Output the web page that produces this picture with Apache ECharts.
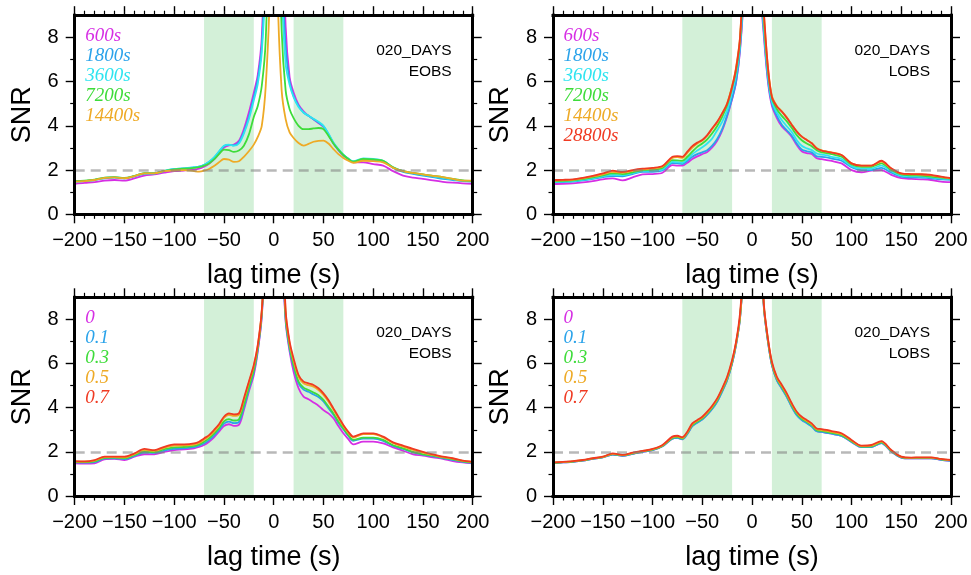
<!DOCTYPE html>
<html><head><meta charset="utf-8">
<script src="https://cdn.jsdelivr.net/npm/echarts@6/dist/echarts.min.js"></script>
<style>html,body{margin:0;padding:0;background:#fff}#c{width:971px;height:575px}</style>
</head><body><div id="c"></div>
<script>
// ---------- data ----------
const LAG = [-200,-190,-180,-170,-160,-150,-140,-130,-120,-110,-100,-90,-80,-75,-70,-65,-60,-55,-50,-45,-40,-35,-30,-25,-20,-16,-12,-8,-4,0,4,8,12,16,20,25,30,35,40,45,50,55,60,65,70,75,80,90,100,110,120,130,140,150,160,170,180,190,200];
const X_TICKS = [-200,-150,-100,-50,0,50,100,150,200];
const Y_TICKS = [0,2,4,6,8];
const BAND_NEG = [-70,-20];
const BAND_POS = [20,70];
const SNR_THRESHOLD = 2;
const WINDOW_LABELS = ['600s','1800s','3600s','7200s','14400s','28800s'];
const WEIGHT_LABELS = ['0','0.1','0.3','0.5','0.7'];
const DATASET_TAG = '020_DAYS';

// top-left: EOBS, windows
const tl600 = [1.38,1.42,1.45,1.52,1.55,1.52,1.62,1.75,1.8,1.88,1.95,1.98,2.02,2.06,2.15,2.28,2.48,2.75,3.02,3.12,3.15,3.32,3.85,4.6,5.5,6.3,8.0,14,25,
  40, 30,15,8.5,6.2,5.5,4.95,4.65,4.45,4.3,4.12,3.95,3.6,3.2,2.9,2.65,2.5,2.35,2.35,2.27,2.2,1.95,1.75,1.66,1.6,1.53,1.47,1.43,1.4,1.38];
const tl1800 = [1.48,1.5,1.55,1.63,1.66,1.62,1.72,1.83,1.84,1.95,2.04,2.07,2.12,2.15,2.22,2.36,2.55,2.82,3.08,3.14,3.12,3.25,3.72,4.4,5.3,6.1,7.6,12,22,
  38, 26,12,7.6,6.0,5.35,4.9,4.6,4.45,4.3,4.15,3.98,3.62,3.22,2.92,2.68,2.5,2.38,2.48,2.45,2.4,2.1,1.92,1.83,1.75,1.68,1.6,1.55,1.5,1.48];
const tl3600 = [1.48,1.5,1.55,1.65,1.68,1.63,1.73,1.85,1.85,1.96,2.05,2.08,2.13,2.16,2.24,2.38,2.57,2.84,3.1,3.15,3.1,3.2,3.65,4.3,5.15,5.9,7.3,11,20,
  36, 24,10.5,6.8,5.85,5.3,4.85,4.6,4.45,4.32,4.18,4.0,3.65,3.25,2.95,2.7,2.52,2.4,2.53,2.5,2.42,2.12,1.95,1.86,1.78,1.72,1.65,1.58,1.52,1.5];
const tl7200 = [1.5,1.52,1.57,1.66,1.68,1.64,1.74,1.86,1.86,1.96,2.03,2.06,2.1,2.13,2.2,2.3,2.48,2.72,2.92,2.9,2.82,2.88,3.1,3.6,4.4,4.9,5.8,7.9,15,
  30, 16,8.3,5.6,4.75,4.35,4.0,3.85,3.85,3.88,3.9,3.85,3.55,3.2,2.92,2.68,2.5,2.38,2.5,2.48,2.42,2.12,1.95,1.87,1.8,1.74,1.68,1.6,1.53,1.5];
const tl14400 = [1.48,1.5,1.55,1.65,1.67,1.63,1.73,1.85,1.85,1.95,1.98,2.0,1.95,1.93,1.97,2.05,2.18,2.35,2.5,2.47,2.37,2.4,2.6,2.85,3.15,3.5,4.0,5.8,10,
  22, 10,5.6,4.3,3.7,3.45,3.22,3.1,3.18,3.28,3.32,3.33,3.2,2.95,2.72,2.55,2.42,2.33,2.42,2.4,2.35,2.1,1.95,1.87,1.8,1.74,1.68,1.6,1.52,1.52];

// top-right: LOBS, windows
const tr600 = [1.37,1.38,1.4,1.44,1.5,1.58,1.62,1.53,1.67,1.8,1.82,1.88,2.22,2.2,2.2,2.33,2.5,2.62,2.72,2.82,3.02,3.32,3.78,4.42,5.2,5.95,7.4,10.3,18,
  40, 18,10.5,8.0,6.0,4.9,4.35,3.97,3.75,3.5,3.13,2.85,2.77,2.73,2.53,2.49,2.45,2.41,2.3,2.0,1.9,1.97,2.0,1.78,1.63,1.6,1.58,1.55,1.48,1.45];
const tr1800 = [1.44,1.46,1.48,1.53,1.6,1.68,1.73,1.72,1.82,1.92,1.92,1.98,2.32,2.3,2.27,2.42,2.6,2.72,2.8,2.9,3.1,3.4,3.85,4.48,5.24,6.0,7.5,10.5,19,
  40, 19,10.8,8.2,6.1,5.0,4.45,4.05,3.8,3.55,3.2,2.93,2.85,2.8,2.62,2.6,2.57,2.52,2.42,2.13,2.0,2.0,2.1,1.88,1.7,1.67,1.66,1.63,1.58,1.56];
const tr3600 = [1.46,1.48,1.5,1.56,1.63,1.72,1.78,1.77,1.86,1.96,1.97,2.03,2.37,2.36,2.33,2.5,2.72,2.88,3.03,3.2,3.43,3.8,4.18,4.7,5.54,6.3,7.7,11,20,
  40, 20,11.2,8.4,6.3,5.1,4.6,4.25,3.98,3.72,3.35,3.1,2.98,2.9,2.75,2.7,2.67,2.6,2.5,2.18,2.07,2.07,2.2,1.95,1.75,1.72,1.7,1.67,1.62,1.58];
const tr7200 = [1.49,1.51,1.53,1.59,1.67,1.76,1.85,1.82,1.9,2.0,2.02,2.1,2.45,2.44,2.42,2.6,2.83,3.05,3.2,3.39,3.66,3.99,4.41,4.93,5.74,6.5,7.9,11.5,21,
  40, 21,11.6,8.7,6.5,5.25,4.75,4.45,4.2,3.9,3.58,3.35,3.2,3.08,2.9,2.8,2.77,2.72,2.6,2.25,2.15,2.15,2.3,2.0,1.8,1.76,1.75,1.7,1.66,1.6];
const tr14400 = [1.52,1.54,1.56,1.62,1.71,1.81,1.92,1.88,1.96,2.03,2.07,2.15,2.55,2.58,2.55,2.78,3.02,3.2,3.33,3.55,3.86,4.15,4.55,5.02,5.8,6.65,8.05,12,22,
  40, 22,12,9.0,6.65,5.35,4.9,4.65,4.38,4.05,3.75,3.52,3.37,3.22,3.0,2.89,2.84,2.8,2.68,2.3,2.2,2.2,2.38,2.06,1.84,1.81,1.8,1.76,1.69,1.62];
const tr28800 = [1.55,1.56,1.58,1.65,1.74,1.85,1.97,1.92,2.0,2.06,2.1,2.18,2.6,2.63,2.6,2.83,3.08,3.24,3.36,3.58,3.89,4.18,4.56,5.0,5.77,6.6,8.0,12,22,
  40, 22,12.2,9.1,6.65,5.3,4.87,4.64,4.36,4.04,3.74,3.51,3.36,3.21,2.98,2.88,2.83,2.79,2.68,2.3,2.2,2.2,2.42,2.08,1.85,1.82,1.81,1.78,1.7,1.63];

// bottom-left: EOBS, weights
const bl0 = [1.48,1.47,1.48,1.66,1.68,1.63,1.78,1.89,1.89,2.0,2.08,2.11,2.16,2.22,2.31,2.46,2.66,2.91,3.17,3.25,3.18,3.22,3.89,4.72,5.48,6.54,8.1,12,22,
  40, 22,12,7.9,6.54,5.63,4.88,4.5,4.38,4.24,4.09,3.89,3.74,3.52,3.17,2.84,2.58,2.34,2.46,2.46,2.38,2.2,2.05,1.89,1.83,1.75,1.68,1.58,1.52,1.48];
const bl01 = [1.52,1.51,1.53,1.7,1.71,1.67,1.82,1.97,1.95,2.06,2.14,2.16,2.21,2.28,2.38,2.53,2.74,2.99,3.28,3.37,3.3,3.35,4.0,4.82,5.6,6.62,8.2,12,22,
  40, 22,12.5,8.0,6.65,5.85,5.1,4.82,4.72,4.6,4.48,4.28,3.98,3.68,3.32,3.02,2.72,2.5,2.6,2.6,2.5,2.27,2.13,1.97,1.87,1.8,1.72,1.63,1.55,1.5];
const bl03 = [1.54,1.54,1.57,1.73,1.74,1.71,1.86,2.02,1.99,2.12,2.2,2.22,2.27,2.34,2.46,2.61,2.82,3.07,3.38,3.48,3.42,3.47,4.12,4.92,5.7,6.7,8.3,12,22,
  40, 22,13,8.1,6.75,5.93,5.18,4.91,4.8,4.69,4.57,4.35,4.05,3.74,3.37,3.06,2.76,2.54,2.64,2.64,2.54,2.3,2.16,2.0,1.89,1.83,1.74,1.66,1.57,1.52];
const bl05 = [1.56,1.56,1.6,1.76,1.76,1.75,1.9,2.08,2.04,2.18,2.28,2.29,2.33,2.4,2.55,2.7,2.92,3.18,3.54,3.68,3.63,3.67,4.35,5.12,5.88,6.8,8.35,12,22,
  40, 22,13.5,8.3,6.9,6.12,5.4,5.1,5.02,4.95,4.8,4.58,4.28,3.92,3.53,3.17,2.86,2.65,2.8,2.8,2.65,2.39,2.24,2.09,1.96,1.86,1.76,1.69,1.59,1.54];
const bl07 = [1.58,1.57,1.63,1.78,1.78,1.78,1.93,2.13,2.08,2.23,2.34,2.34,2.38,2.46,2.61,2.76,2.99,3.25,3.59,3.74,3.7,3.74,4.42,5.18,5.93,6.84,8.4,12,22,
  40, 22,14,8.4,6.99,6.23,5.48,5.18,5.1,5.03,4.88,4.65,4.35,3.97,3.59,3.22,2.91,2.69,2.84,2.84,2.69,2.43,2.28,2.13,2.0,1.89,1.78,1.71,1.6,1.55];

// bottom-right: LOBS, weights
const br0 = [1.49,1.52,1.55,1.6,1.68,1.75,1.88,1.82,1.91,2.0,2.08,2.25,2.6,2.63,2.57,2.81,3.17,3.33,3.47,3.69,3.95,4.28,4.74,5.25,6.0,6.85,8.05,11,21,
  40, 21,12,8.5,7.0,5.93,5.25,4.87,4.49,4.04,3.67,3.45,3.31,3.16,2.94,2.9,2.86,2.82,2.72,2.45,2.21,2.22,2.4,2.02,1.74,1.7,1.71,1.71,1.64,1.59];
const br01 = [1.49,1.52,1.55,1.6,1.68,1.75,1.88,1.82,1.91,2.0,2.08,2.25,2.6,2.63,2.57,2.81,3.16,3.32,3.46,3.68,3.94,4.27,4.73,5.24,6.0,6.85,8.05,11,21,
  40, 21,12,8.5,7.0,5.92,5.24,4.86,4.48,4.03,3.66,3.44,3.3,3.15,2.93,2.9,2.86,2.82,2.72,2.45,2.21,2.22,2.4,2.02,1.74,1.7,1.71,1.71,1.64,1.59];
const br03 = [1.5,1.53,1.56,1.61,1.69,1.76,1.9,1.84,1.93,2.02,2.1,2.27,2.63,2.67,2.6,2.85,3.21,3.37,3.51,3.74,4.0,4.33,4.79,5.3,6.05,6.9,8.1,11,21,
  40, 21,12.2,8.55,7.05,5.98,5.3,4.93,4.55,4.1,3.73,3.5,3.36,3.21,2.98,2.95,2.91,2.86,2.76,2.48,2.24,2.25,2.43,2.04,1.76,1.72,1.73,1.73,1.66,1.61];
const br05 = [1.51,1.54,1.57,1.62,1.7,1.77,1.91,1.85,1.94,2.03,2.11,2.29,2.66,2.7,2.63,2.88,3.25,3.41,3.55,3.78,4.05,4.38,4.84,5.35,6.1,6.94,8.15,11,21,
  40, 21,12.3,8.6,7.1,6.03,5.35,4.98,4.6,4.15,3.78,3.55,3.4,3.25,3.02,2.99,2.95,2.9,2.8,2.51,2.26,2.28,2.46,2.06,1.77,1.73,1.74,1.74,1.67,1.62];
const br07 = [1.52,1.55,1.58,1.63,1.71,1.78,1.93,1.86,1.96,2.04,2.13,2.31,2.69,2.73,2.66,2.91,3.29,3.44,3.59,3.82,4.09,4.42,4.88,5.4,6.16,6.99,8.3,11,22,
  40, 22,12.5,8.65,7.14,6.08,5.4,5.03,4.65,4.2,3.82,3.59,3.44,3.29,3.06,3.03,2.99,2.94,2.84,2.54,2.28,2.31,2.49,2.08,1.78,1.74,1.75,1.75,1.68,1.63];

// ---------- styling / layout ----------
const COLORS = ['#d62ee4','#2aa3ea','#2ee4f0','#3edc3a','#eeaa26','#f03a22'];
const WEIGHT_COLORS = ['#d62ee4','#2aa3ea','#3edc3a','#eeaa26','#f03a22'];
const GRIDS = [
  {left: 74.7, top: 15.2, width: 398, height: 199.1},
  {left: 553, top: 15.2, width: 398, height: 199.1},
  {left: 74.7, top: 297.3, width: 398, height: 198.7},
  {left: 553, top: 297.3, width: 398, height: 198.7}
];
const PANELS = [
  {tag: 'EOBS', labels: WINDOW_LABELS.slice(0,5), colors: COLORS.slice(0,5), series: [tl600,tl1800,tl3600,tl7200,tl14400]},
  {tag: 'LOBS', labels: WINDOW_LABELS, colors: COLORS, series: [tr600,tr1800,tr3600,tr7200,tr14400,tr28800]},
  {tag: 'EOBS', labels: WEIGHT_LABELS, colors: WEIGHT_COLORS, series: [bl0,bl01,bl03,bl05,bl07]},
  {tag: 'LOBS', labels: WEIGHT_LABELS, colors: WEIGHT_COLORS, series: [br0,br01,br03,br05,br07]}
];

const FONT = '"Liberation Sans", Arial, Helvetica, sans-serif';
const minus = v => String(v).replace('-', '\u2212');
const axisLine = {show: true, onZero: false, lineStyle: {color: '#000', width: 3, cap: 'square'}};
const tick = {show: true, length: 9, lineStyle: {color: '#000', width: 1.4}};

const option = {
  animation: false,
  backgroundColor: '#fff',
  grid: GRIDS.map(g => Object.assign({show: false, containLabel: false}, g)),
  xAxis: [], yAxis: [], series: [], graphic: []
};

GRIDS.forEach((g, i) => {
  const xBase = {
    type: 'value', gridIndex: i, min: -200, max: 200, interval: 50, z: 10,
    axisLine: axisLine, axisTick: tick,
    minorTick: {show: true, splitNumber: 5, length: 4.5, lineStyle: {color: '#000', width: 1.2}},
    splitLine: {show: false}, minorSplitLine: {show: false}
  };
  option.xAxis.push(Object.assign({}, xBase, {
    position: 'bottom',
    axisLabel: {show: true, color: '#000', fontSize: 20, fontFamily: FONT, margin: 16, formatter: minus, customValues: X_TICKS},
    name: 'lag time (s)', nameLocation: 'middle', nameGap: 48,
    nameTextStyle: {color: '#000', fontSize: 27, fontFamily: FONT}
  }));
  option.xAxis.push(Object.assign({}, xBase, {position: 'top', axisLabel: {show: false}}));
  const yBase = {
    type: 'value', gridIndex: i, min: 0, max: 9, interval: 2, z: 10,
    axisLine: axisLine, axisTick: Object.assign({customValues: Y_TICKS}, tick),
    minorTick: {show: true, splitNumber: 2, length: 4.5, lineStyle: {color: '#000', width: 1.2}},
    splitLine: {show: false}, minorSplitLine: {show: false}
  };
  option.yAxis.push(Object.assign({}, yBase, {
    position: 'left',
    axisLabel: {show: true, color: '#000', fontSize: 20, fontFamily: FONT, margin: 16, customValues: Y_TICKS},
    name: 'SNR', nameLocation: 'middle', nameGap: 39, nameRotate: 90,
    nameTextStyle: {color: '#000', fontSize: 27, fontFamily: FONT}
  }));
  option.yAxis.push(Object.assign({}, yBase, {position: 'right', axisLabel: {show: false}}));

  const xi = 2 * i, yi = 2 * i;
  option.series.push({
    type: 'line', xAxisIndex: xi, yAxisIndex: yi, data: [], silent: true, z: 1,
    markArea: {silent: true, itemStyle: {color: '#d3f0d8'},
      data: [[{xAxis: BAND_NEG[0]}, {xAxis: BAND_NEG[1]}], [{xAxis: BAND_POS[0]}, {xAxis: BAND_POS[1]}]]}
  });
  const p = PANELS[i];
  p.series.forEach((arr, k) => {
    option.series.push({
      type: 'line', xAxisIndex: xi, yAxisIndex: yi, z: 3,
      data: LAG.map((x, j) => [x, arr[j]]),
      showSymbol: false, smooth: 0.3, clip: true, silent: true,
      lineStyle: {color: p.colors[k], width: 1.8}
    });
  });
  option.series.push({
    type: 'line', xAxisIndex: xi, yAxisIndex: yi, data: [], silent: true, z: 5,
    markLine: {silent: true, symbol: 'none', label: {show: false},
      lineStyle: {type: [10, 6], color: 'rgba(125,125,125,0.55)', width: 2.6},
      data: [{yAxis: SNR_THRESHOLD}]}
  });
  p.labels.forEach((t, k) => {
    option.graphic.push({type: 'text', x: g.left + 10.5, y: g.top + 20.5 + 20 * k, z: 100,
      style: {text: t, fill: p.colors[k], fontSize: 19, fontStyle: 'italic',
        fontFamily: '"Liberation Serif", "Times New Roman", serif', align: 'left', verticalAlign: 'middle'}});
  });
  [DATASET_TAG, p.tag].forEach((t, k) => {
    option.graphic.push({type: 'text', x: g.left + g.width - 21, y: g.top + 35.5 + 21 * k, z: 100,
      style: {text: t, fill: '#000', fontSize: 15.5, fontFamily: FONT, align: 'right', verticalAlign: 'middle'}});
  });
});

const chart = echarts.init(document.getElementById('c'), null, {renderer: 'canvas'});
chart.setOption(option);
</script>
</body></html>
